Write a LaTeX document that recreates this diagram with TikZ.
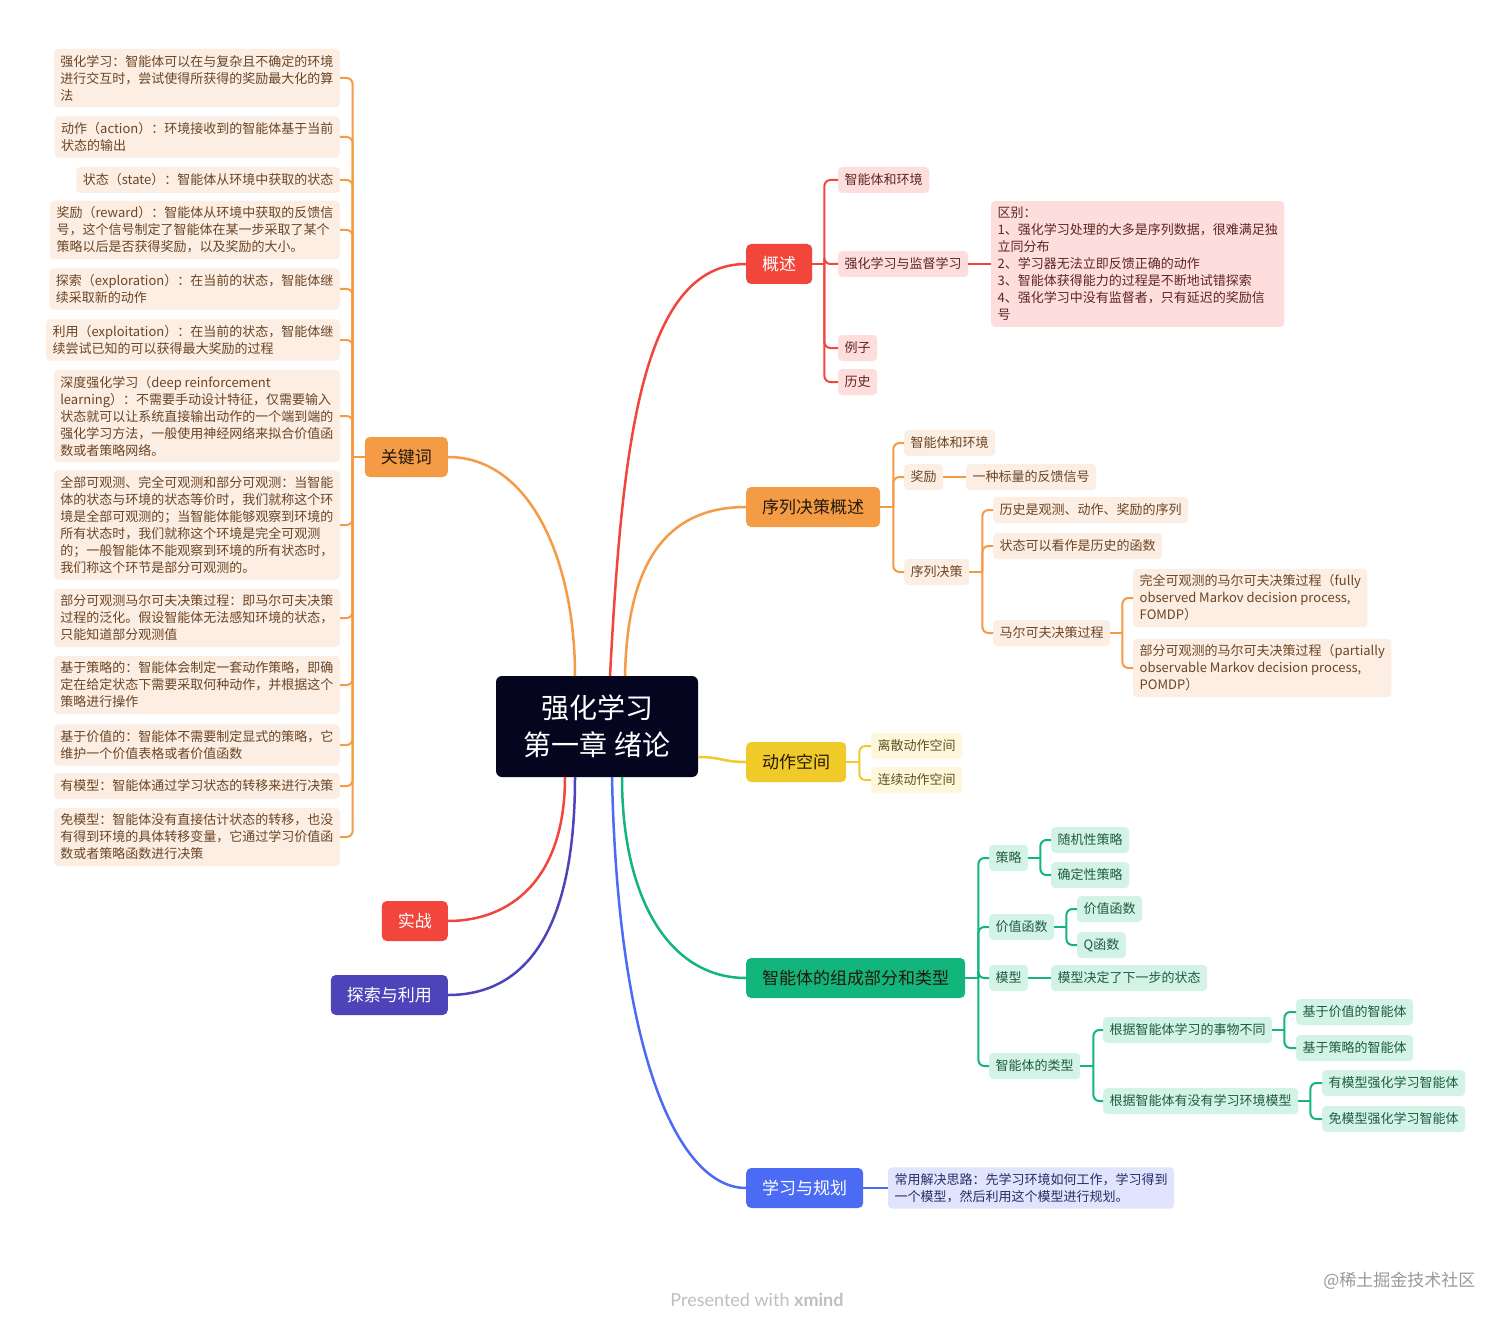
\documentclass[tikz,border=0pt]{standalone}
\usepackage{fontspec}
\setmainfont{Noto Sans CJK SC}
\newfontfamily\wmfont{Lato}
\definecolor{cR}{HTML}{F2453C}
\definecolor{cO}{HTML}{F39B45}
\definecolor{cY}{HTML}{F0CA28}
\definecolor{cG}{HTML}{12B57B}
\definecolor{cB}{HTML}{4B6BF4}
\definecolor{cI}{HTML}{4C44B8}
\definecolor{cC}{HTML}{05051F}
\definecolor{fR}{HTML}{FDDEDC}
\definecolor{fO}{HTML}{FDEEE3}
\definecolor{fY}{HTML}{FEF7DB}
\definecolor{fG}{HTML}{D4F3E7}
\definecolor{fB}{HTML}{E0E4FD}
\definecolor{tR}{HTML}{5E2522}
\definecolor{tO}{HTML}{6A4526}
\definecolor{tY}{HTML}{5E5220}
\definecolor{tG}{HTML}{1D5B45}
\definecolor{tB}{HTML}{262E66}
\definecolor{mtext}{HTML}{23180C}
\tikzset{
  central/.style={fill=cC, text=white, rounded corners=6pt, minimum width=202pt, minimum height=101pt, align=center, font=\fontsize{28}{37}\selectfont},
  mainbox/.style={rounded corners=5pt, minimum height=40pt, inner xsep=16pt, font=\fontsize{17}{20}\selectfont, anchor=west},
  subbox/.style={rounded corners=4pt, minimum height=26pt, inner xsep=6.5pt, inner ysep=6pt, align=left, font=\fontsize{13}{17}\selectfont, anchor=west},
  subR/.style={subbox, fill=fR, text=tR},
  subO/.style={subbox, fill=fO, text=tO},
  subY/.style={subbox, fill=fY, text=tY},
  subG/.style={subbox, fill=fG, text=tG},
  subB/.style={subbox, fill=fB, text=tB},
  curve/.style={line width=2.5pt},
  lnk/.style={line width=2pt},
  brk/.style={line width=2pt, rounded corners=6pt},
}
\begin{document}
\begin{tikzpicture}[x=1pt,y=-1pt]
\useasboundingbox[fill=white] (0,0) rectangle (1512,1324);

% central topic
\node[central] (c) at (597,726.5) {强化学习\\第一章 绪论};

% main branches
\node[mainbox, fill=cR, text=white] (gs) at (746,264) {概述};
\node[mainbox, fill=cO, text=mtext] (xl) at (746,507) {序列决策概述};
\node[mainbox, fill=cY, text=mtext] (dz) at (746,762) {动作空间};
\node[mainbox, fill=cG, text=mtext] (zn) at (746,978) {智能体的组成部分和类型};
\node[mainbox, fill=cB, text=white] (xx) at (746,1188) {学习与规划};
\node[mainbox, fill=cO, text=mtext, anchor=east] (gj) at (448,457) {关键词};
\node[mainbox, fill=cR, text=white, anchor=east] (sz) at (448,921) {实战};
\node[mainbox, fill=cI, text=white, anchor=east] (ts) at (448,995) {探索与利用};

% curve start points on the central topic
\coordinate (sR) at (610,676);
\coordinate (sO) at (625,676);
\coordinate (sK) at (575,676);
\coordinate (sY) at (698,757);
\coordinate (sG) at (622,777);
\coordinate (sB) at (612,777);
\coordinate (sS) at (565,777);
\coordinate (sT) at (575,777);

\draw[curve, cR] (sR) .. controls (622,450) and (640,264) .. (gs.west);
\draw[curve, cO] (sO) .. controls (627,580) and (655,507) .. (xl.west);
\draw[curve, cO] (sK) .. controls (575,560) and (530,457) .. (gj.east);
\draw[curve, cY] (sY) .. controls (722,757) and (722,762) .. (dz.west);
\draw[curve, cG] (sG) .. controls (622,900) and (670,978) .. (zn.west);
\draw[curve, cB] (sB) .. controls (618,1060) and (680,1188) .. (xx.west);
\draw[curve, cR] (sS) .. controls (565,880) and (510,921) .. (sz.east);
\draw[curve, cI] (sT) .. controls (575,940) and (520,995) .. (ts.east);

% ---- 概述
\node[subR] (g1) at (838,180) {智能体和环境};
\node[subR] (g2) at (838,264) {强化学习与监督学习};
\node[subR] (g3) at (838,348) {例子};
\node[subR] (g4) at (838,382) {历史};
\node[subR] (g5) at (991,264) {区别：\\1、强化学习处理的大多是序列数据，很难满足独\\立同分布\\2、学习器无法立即反馈正确的动作\\3、智能体获得能力的过程是不断地试错探索\\4、强化学习中没有监督者，只有延迟的奖励信\\号};
\draw[lnk, cR] (gs.east) -- ++(12,0) coordinate (gsT);
\foreach \n in {g1,g2,g3,g4} \draw[brk, cR] (gsT) |- (\n.west);
\draw[lnk, cR] (g2.east) -- (g5.west);

% ---- 序列决策概述
\node[subO] (x1) at (904,443) {智能体和环境};
\node[subO] (x2) at (904,477) {奖励};
\node[subO] (x3) at (966,477) {一种标量的反馈信号};
\node[subO] (x4) at (904,572) {序列决策};
\node[subO] (x5) at (993,510) {历史是观测、动作、奖励的序列};
\node[subO] (x6) at (993,546) {状态可以看作是历史的函数};
\node[subO] (x7) at (993,633) {马尔可夫决策过程};
\node[subO] (x8) at (1133,598) {完全可观测的马尔可夫决策过程（fully\\observed Markov decision process,\\FOMDP）};
\node[subO] (x9) at (1133,668) {部分可观测的马尔可夫决策过程（partially\\observable Markov decision process,\\POMDP）};
\draw[lnk, cO] (xl.east) -- ++(13,0) coordinate (xlT);
\foreach \n in {x1,x2,x4} \draw[brk, cO] (xlT) |- (\n.west);
\draw[lnk, cO] (x2.east) -- (x3.west);
\draw[lnk, cO] (x4.east) -- ++(13,0) coordinate (x4T);
\foreach \n in {x5,x6,x7} \draw[brk, cO] (x4T) |- (\n.west);
\draw[lnk, cO] (x7.east) -- ++(12,0) coordinate (x7T);
\foreach \n in {x8,x9} \draw[brk, cO] (x7T) |- (\n.west);

% ---- 动作空间
\node[subY] (d1) at (871,746) {离散动作空间};
\node[subY] (d2) at (871,780) {连续动作空间};
\draw[lnk, cY] (dz.east) -- ++(13,0) coordinate (dzT);
\foreach \n in {d1,d2} \draw[brk, cY] (dzT) |- (\n.west);

% ---- 智能体的组成部分和类型
\node[subG] (z1) at (989,858) {策略};
\node[subG] (z2) at (1051,840) {随机性策略};
\node[subG] (z3) at (1051,875) {确定性策略};
\node[subG] (z4) at (989,927) {价值函数};
\node[subG] (z5) at (1077,909) {价值函数};
\node[subG] (z6) at (1077,945) {Q函数};
\node[subG] (z7) at (989,978) {模型};
\node[subG] (z8) at (1051,978) {模型决定了下一步的状态};
\node[subG] (z9) at (989,1066) {智能体的类型};
\node[subG] (z10) at (1103,1030) {根据智能体学习的事物不同};
\node[subG] (z11) at (1296,1012) {基于价值的智能体};
\node[subG] (z12) at (1296,1048) {基于策略的智能体};
\node[subG] (z13) at (1103,1101) {根据智能体有没有学习环境模型};
\node[subG] (z14) at (1322,1083) {有模型强化学习智能体};
\node[subG] (z15) at (1322,1119) {免模型强化学习智能体};
\draw[lnk, cG] (zn.east) -- ++(13,0) coordinate (znT);
\foreach \n in {z1,z4,z7,z9} \draw[brk, cG] (znT) |- (\n.west);
\draw[lnk, cG] (z1.east) -- ++(12,0) coordinate (z1T);
\foreach \n in {z2,z3} \draw[brk, cG] (z1T) |- (\n.west);
\draw[lnk, cG] (z4.east) -- ++(12,0) coordinate (z4T);
\foreach \n in {z5,z6} \draw[brk, cG] (z4T) |- (\n.west);
\draw[lnk, cG] (z7.east) -- (z8.west);
\draw[lnk, cG] (z9.east) -- ++(13,0) coordinate (z9T);
\foreach \n in {z10,z13} \draw[brk, cG] (z9T) |- (\n.west);
\draw[lnk, cG] (z10.east) -- ++(12,0) coordinate (z10T);
\foreach \n in {z11,z12} \draw[brk, cG] (z10T) |- (\n.west);
\draw[lnk, cG] (z13.east) -- ++(12,0) coordinate (z13T);
\foreach \n in {z14,z15} \draw[brk, cG] (z13T) |- (\n.west);

% ---- 学习与规划
\node[subB] (b1) at (888,1188) {常用解决思路：先学习环境如何工作，学习得到\\一个模型，然后利用这个模型进行规划。};
\draw[lnk, cB] (xx.east) -- (b1.west);

% ---- 关键词
\node[subO, anchor=east] (k1) at (340,78) {强化学习：智能体可以在与复杂且不确定的环境\\进行交互时，尝试使得所获得的奖励最大化的算\\法};
\node[subO, anchor=east] (k2) at (340,137) {动作（action）：环境接收到的智能体基于当前\\状态的输出};
\node[subO, anchor=east] (k3) at (340,180) {状态（state）：智能体从环境中获取的状态};
\node[subO, anchor=east] (k4) at (340,230) {奖励（reward）：智能体从环境中获取的反馈信\\号，这个信号制定了智能体在某一步采取了某个\\策略以后是否获得奖励，以及奖励的大小。};
\node[subO, anchor=east] (k5) at (340,289) {探索（exploration）：在当前的状态，智能体继\\续采取新的动作};
\node[subO, anchor=east] (k6) at (340,340) {利用（exploitation）：在当前的状态，智能体继\\续尝试已知的可以获得最大奖励的过程};
\node[subO, anchor=east] (k7) at (340,416) {深度强化学习（deep reinforcement\\learning）：不需要手动设计特征，仅需要输入\\状态就可以让系统直接输出动作的一个端到端的\\强化学习方法，一般使用神经网络来拟合价值函\\数或者策略网络。};
\node[subO, anchor=east] (k8) at (340,525) {全部可观测、完全可观测和部分可观测：当智能\\体的状态与环境的状态等价时，我们就称这个环\\境是全部可观测的；当智能体能够观察到环境的\\所有状态时，我们就称这个环境是完全可观测\\的；一般智能体不能观察到环境的所有状态时，\\我们称这个环节是部分可观测的。};
\node[subO, anchor=east] (k9) at (340,618) {部分可观测马尔可夫决策过程：即马尔可夫决策\\过程的泛化。假设智能体无法感知环境的状态，\\只能知道部分观测值};
\node[subO, anchor=east] (k10) at (340,685) {基于策略的：智能体会制定一套动作策略，即确\\定在给定状态下需要采取何种动作，并根据这个\\策略进行操作};
\node[subO, anchor=east] (k11) at (340,745) {基于价值的：智能体不需要制定显式的策略，它\\维护一个价值表格或者价值函数};
\node[subO, anchor=east] (k12) at (340,786) {有模型：智能体通过学习状态的转移来进行决策};
\node[subO, anchor=east] (k13) at (340,837) {免模型：智能体没有直接估计状态的转移，也没\\有得到环境的具体转移变量，它通过学习价值函\\数或者策略函数进行决策};
\draw[lnk, cO] (gj.west) -- ++(-12,0) coordinate (gjT);
\foreach \n in {k1,k2,k3,k4,k5,k6,k7,k8,k9,k10,k11,k12,k13} \draw[brk, cO] (gjT) |- (\n.east);

% ---- watermarks
\node[font=\wmfont\fontsize{18}{20}\selectfont, text=black!25] (wm1) at (757,1300) {Presented with \textbf{xmind}};
\node[font=\fontsize{17}{20}\selectfont, text=black!40, anchor=east] (wm2) at (1479,1281) {@稀土掘金技术社区};
\end{tikzpicture}
\end{document}
